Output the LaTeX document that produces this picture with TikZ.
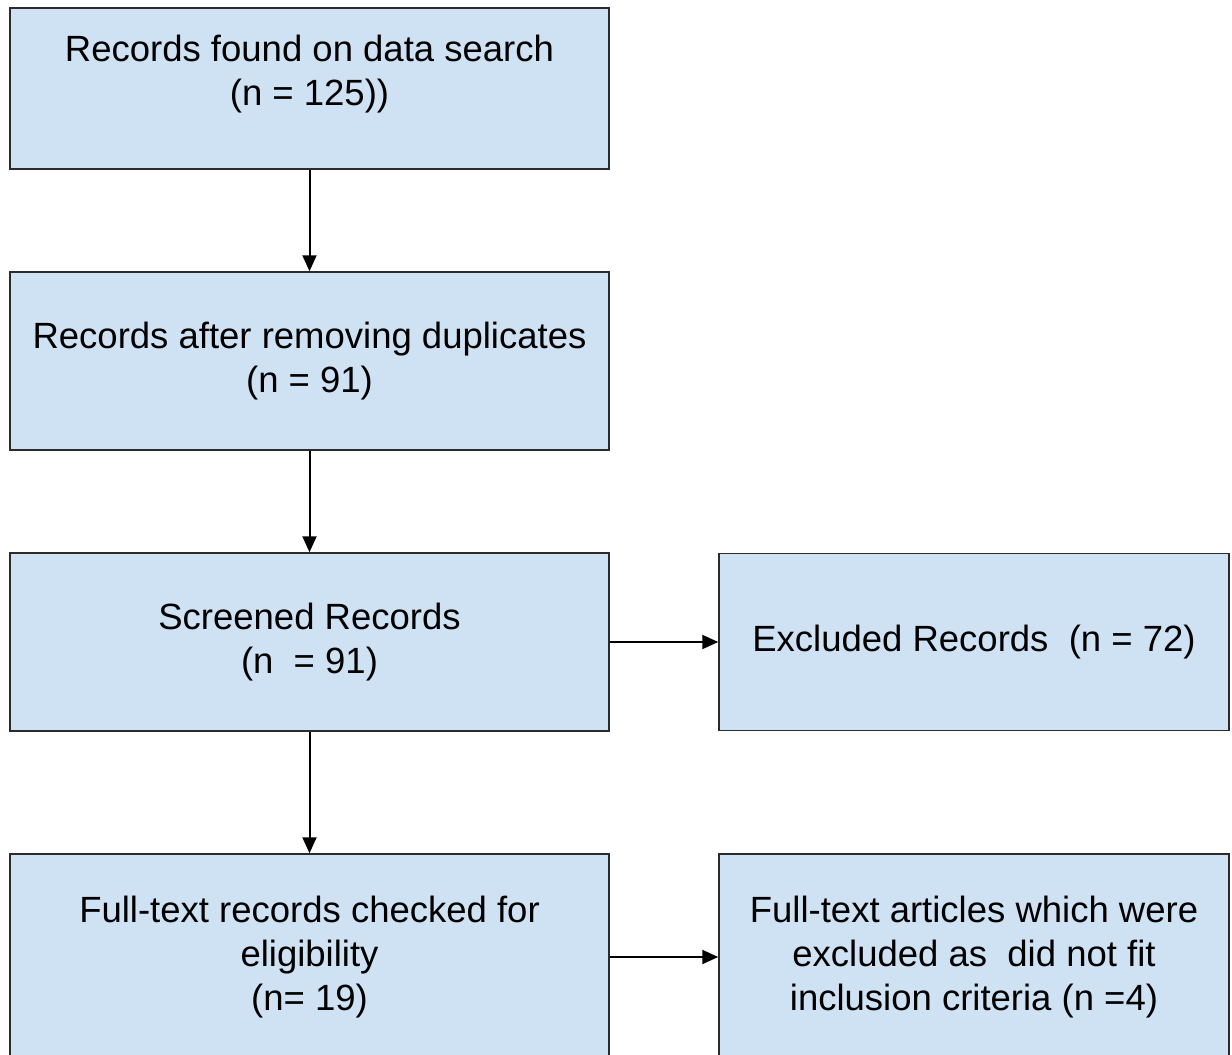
\documentclass[tikz,border=0pt]{standalone}
\usepackage{fontspec}
\setmainfont{Liberation Sans}
\usetikzlibrary{arrows.meta,positioning}
\definecolor{paleblue}{HTML}{CFE2F3}
\definecolor{edge}{HTML}{2B2B2B}

\begin{document}
\begin{tikzpicture}[x=1pt,y=-1pt,>={Triangle[length=16pt,width=14pt]},
    stage/.style={draw=edge,line width=1.5pt,fill=paleblue,inner sep=0pt,
                  minimum width=599pt,align=center,
                  font=\fontsize{36.5}{44}\selectfont},
    side/.style={stage,minimum width=510pt},
    flow/.style={line width=2pt,->}]
    \useasboundingbox (0,0) rectangle (1232,1055);
    \node[stage,minimum height=161pt] (search) at (309.5,88.5) {};
    \node[align=center,font=\fontsize{36.5}{44}\selectfont] (searchtxt)
        at ([yshift=14pt]search.center) {Records found on data search\\(n = 125))};
    \node[stage,minimum height=178pt] (dedup) at (309.5,361)
        {Records after removing duplicates\\(n = 91)};
    \node[stage,minimum height=178pt] (screen) at (309.5,642)
        {Screened Records\\(n\ \ = 91)};
    \node[side,minimum height=177pt] (excl) at (974,642)
        {Excluded Records\ \ (n = 72)};
    \node[stage,minimum height=206pt] (full) at (309.5,957)
        {Full-text records checked for\\eligibility\\(n= 19)};
    \node[side,minimum height=206pt] (fullexcl) at (974,957)
        {Full-text articles which were\\excluded as\ \ did not fit\\inclusion criteria (n =4)};
    \draw[flow] (search)--(dedup);
    \draw[flow] (dedup)--(screen);
    \draw[flow] (screen)--(full);
    \draw[flow] (screen)--(excl);
    \draw[flow] (full)--(fullexcl);
\end{tikzpicture}
\end{document}
